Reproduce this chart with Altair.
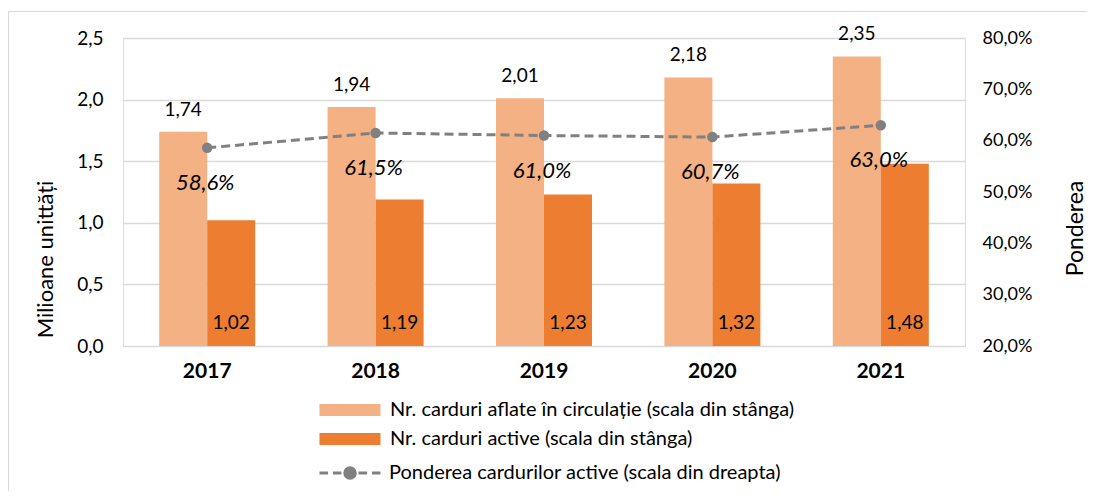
import altair as alt
import pandas as pd

years = ["2017", "2018", "2019", "2020", "2021"]
in_circulation = [1.74, 1.94, 2.01, 2.18, 2.35]
active = [1.02, 1.19, 1.23, 1.32, 1.48]
share_active = [58.6, 61.5, 61.0, 60.7, 63.0]

s_light = "Nr. carduri aflate în circulație (scala din stânga)"
s_dark = "Nr. carduri active (scala din stânga)"
s_line = "Ponderea cardurilor active (scala din dreapta)"

left_ticks = [0.0, 0.5, 1.0, 1.5, 2.0, 2.5]
right_ticks = [20, 30, 40, 50, 60, 70, 80]

C_LIGHT = "#F4B183"
C_DARK = "#ED7D31"
C_GRAY = "#808080"
FONT = "Lato"

bars_df = pd.DataFrame(
    {"year": years * 2,
     "series": [s_light] * len(years) + [s_dark] * len(years),
     "value": in_circulation + active}
)
bars_df["base"] = 0.0
line_df = pd.DataFrame({"year": years, "share": share_active, "s": [s_line] * len(years)})

x_enc = alt.X(
    "year:N",
    title=None,
    scale=alt.Scale(paddingInner=0.43, paddingOuter=0.215),
    axis=alt.Axis(labelAngle=0, labelFontWeight="bold", labelFontSize=21, labelPadding=14,
                  ticks=False, domain=False, labelColor="#000000", labelFont=FONT),
)
xoff = alt.XOffset("series:N", sort=[s_light, s_dark], scale=alt.Scale(paddingInner=0, paddingOuter=0))

y_left_scale = alt.Scale(domain=[0, 2.5], nice=False, zero=True)
left_axis = alt.Axis(values=left_ticks, labelExpr="replace(format(datum.value, '.1f'), '.', ',')",
                     title="Milioane unittăți", titleFontSize=22, titleFontWeight="normal",
                     titleAngle=270, titleX=-78, titleY=221, titleAlign="center", titleBaseline="middle",
                     labelFontSize=19, labelPadding=20, ticks=False, domain=False,
                     grid=True, gridColor="#D9D9D9", gridWidth=1.5, labelColor="#000000",
                     titleColor="#000000", labelFont=FONT, titleFont=FONT)

# symbol paths: unit = sqrt(size)/2 = 7.5 px; drawn to the right of the symbol centre
path_rect = "M-1,-0.8H7.13V0.8H-1Z"
path_line = ("M-1,0H0.13M0.79,0H1.93M4.2,0H5.35M6,0H7.13"
             "M2.37,0A0.7,0.7 0 1,1 3.77,0A0.7,0.7 0 1,1 2.37,0Z")

bars = alt.Chart(bars_df).mark_bar().encode(
    x=x_enc,
    xOffset=xoff,
    y=alt.Y("value:Q", scale=y_left_scale, axis=left_axis),
    fill=alt.Fill("series:N", scale=alt.Scale(domain=[s_light, s_dark], range=[C_LIGHT, C_DARK]),
                  legend=alt.Legend(title=None, orient="none", legendX=194, legendY=362,
                                    symbolType=path_rect, symbolSize=225, symbolStrokeWidth=0,
                                    labelFontSize=20, labelFont=FONT, labelColor="#000000",
                                    rowPadding=9, labelOffset=53, padding=0, labelLimit=600)),
)

labels_top = alt.Chart(bars_df).transform_filter(
    alt.datum.series == s_light
).transform_calculate(
    lbl="replace(format(datum.value, '.2f'), '.', ',')"
).mark_text(fontSize=19, font=FONT, dy=-16, baseline="alphabetic", color="#000000").encode(
    x=x_enc, xOffset=xoff, y=alt.Y("value:Q", scale=y_left_scale, axis=left_axis), text="lbl:N"
)

labels_bottom = alt.Chart(bars_df).transform_filter(
    alt.datum.series == s_dark
).transform_calculate(
    lbl="replace(format(datum.value, '.2f'), '.', ',')"
).mark_text(fontSize=19, font=FONT, dy=-23, baseline="middle", color="#000000").encode(
    x=x_enc, xOffset=xoff, y=alt.Y("base:Q", scale=y_left_scale, axis=left_axis), text="lbl:N"
)

frame = alt.Chart(pd.DataFrame({"k": [0]})).mark_rect(
    fill=None, stroke="#D9D9D9", strokeWidth=1.2
).encode(
    x=alt.value(-114.5), x2=alt.value(1000), y=alt.value(-26.5), y2=alt.value(500)
)

left = alt.layer(frame, bars, labels_top, labels_bottom)

y_right_scale = alt.Scale(domain=[20, 80], nice=False, zero=False)
right_axis = alt.Axis(values=right_ticks, orient="right",
                      labelExpr="replace(format(datum.value, '.1f'), '.', ',') + '%'",
                      title="Ponderea", titleFontSize=23, titleFontWeight="normal",
                      titleAngle=270, titleX=110, titleY=190, titleAlign="center", titleBaseline="middle",
                      labelFontSize=18, labelPadding=17, ticks=False, domain=False, grid=False,
                      labelColor="#000000", titleColor="#000000", labelFont=FONT, titleFont=FONT)

line = alt.Chart(line_df).mark_line(strokeDash=[9, 5], strokeWidth=3).encode(
    x=x_enc,
    y=alt.Y("share:Q", scale=y_right_scale, axis=right_axis),
    stroke=alt.Stroke("s:N", scale=alt.Scale(domain=[s_line], range=[C_GRAY]),
                      legend=alt.Legend(title=None, orient="none", legendX=194, legendY=425,
                                        symbolType=path_line, symbolSize=225, symbolStrokeWidth=3,
                                        symbolFillColor=C_GRAY, symbolStrokeColor=C_GRAY,
                                        labelFontSize=20, labelFont=FONT, labelColor="#000000",
                                        labelOffset=52, padding=0, labelLimit=600)),
)

points = alt.Chart(line_df).mark_point(filled=True, size=110, color=C_GRAY, opacity=1).encode(
    x=x_enc, y=alt.Y("share:Q", scale=y_right_scale, axis=right_axis)
)

pct = alt.Chart(line_df).transform_calculate(
    lbl="replace(format(datum.share, '.1f'), '.', ',') + '%'"
).mark_text(fontSize=22, font=FONT, fontStyle="italic", dy=35, dx=-2, baseline="middle",
            color="#000000").encode(
    x=x_enc, y=alt.Y("share:Q", scale=y_right_scale, axis=right_axis), text="lbl:N"
)

right = alt.layer(line, points, pct)

chart = alt.layer(left, right).resolve_scale(y="independent").properties(
    width=842, height=308,
    autosize=alt.AutoSizeParams(type="none"),
    padding={"left": 115, "top": 30, "right": 122, "bottom": 145},
).configure_view(strokeWidth=0, stroke="transparent").configure(background="#FFFFFF")

chart.save("out.html", embed_options={"renderer": "svg", "actions": False})
